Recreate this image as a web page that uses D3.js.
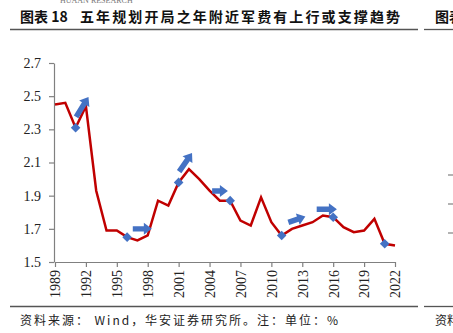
<!DOCTYPE html>
<html>
<head>
<meta charset="utf-8">
<script src="https://cdn.jsdelivr.net/npm/d3@7"></script>
<style>
  html, body { margin: 0; padding: 0; background: #fff; }
  svg { display: block; }
</style>
</head>
<body>
<svg id="chart" width="453" height="333"></svg>
<script>
// Defence spending as share of GDP, 1989–2022 (%)
const years = d3.range(1989, 2023);
const spending = [
  2.45, 2.46, 2.31, 2.44, 1.93, 1.69, 1.69, 1.65, 1.63, 1.66,
  1.87, 1.84, 1.98, 2.06, 2.00, 1.93, 1.87, 1.87, 1.75, 1.72,
  1.89, 1.74, 1.66, 1.70, 1.72, 1.74, 1.78, 1.77, 1.71, 1.68,
  1.69, 1.76, 1.61, 1.60
];
// First year of each five-year plan
const planYears = [1991, 1996, 2001, 2006, 2011, 2016, 2021];
// Trend arrows after each plan start: [fromYear, fromValue, toYear, toValue]
const arrows = [
  [1991.05, 2.375, 1992.25, 2.495],
  [1996.55, 1.700, 1998.40, 1.700],
  [2001.05, 2.045, 2002.30, 2.157],
  [2004.25, 1.928, 2005.78, 1.928],
  [2011.65, 1.739, 2013.30, 1.774],
  [2014.40, 1.818, 2016.36, 1.818]
];
const yTicks = [1.5, 1.7, 1.9, 2.1, 2.3, 2.5, 2.7];
const xTicks = d3.range(1989, 2023, 3);

const svg = d3.select("#chart");
const x = d3.scaleLinear().domain([1989, 2022]).range([55, 395]);
const y = d3.scaleLinear().domain([1.5, 2.7]).range([262, 63]);

const serif = "'Liberation Serif', 'Times New Roman', serif";
const cjk = "'Noto Sans CJK SC', sans-serif";

// Page header fragment
svg.append("text").attr("x", 60).attr("y", 3)
  .attr("font-family", serif).attr("font-size", 8).attr("fill", "#777")
  .text("HUAAN RESEARCH");

// Title
svg.append("text").attr("x", 20).attr("y", 22)
  .attr("font-family", cjk).attr("font-weight", 700).attr("font-size", 14).attr("fill", "#111")
  .text("图表 18");
svg.append("text").attr("x", 80).attr("y", 22)
  .attr("font-family", cjk).attr("font-weight", 700).attr("font-size", 14).attr("fill", "#111")
  .attr("textLength", 320).attr("lengthAdjust", "spacing")
  .text("五年规划开局之年附近军费有上行或支撑趋势");
svg.append("text").attr("x", 435).attr("y", 22)
  .attr("font-family", cjk).attr("font-weight", 700).attr("font-size", 14).attr("fill", "#111")
  .text("图表");

// Rules under title and above source
[[10, 418, 29.5], [424, 453, 29.5], [10, 418, 306.5], [424, 453, 306.5]].forEach(r => {
  svg.append("line").attr("x1", r[0]).attr("x2", r[1]).attr("y1", r[2]).attr("y2", r[2])
    .attr("stroke", "#555").attr("stroke-width", 1.3);
});

// Axes
const yAxis = svg.append("g").attr("transform", "translate(54,0)")
  .call(d3.axisLeft(y).tickValues(yTicks).tickFormat(d3.format(".1f")).tickSize(5).tickSizeOuter(0).tickPadding(8));
yAxis.selectAll("text").attr("font-family", serif).attr("font-size", 14).attr("fill", "#222");

const xAxis = svg.append("g").attr("transform", "translate(0,262)")
  .call(d3.axisBottom(x).tickValues(xTicks).tickFormat(d3.format("d")).tickSize(5).tickSizeOuter(0));
xAxis.selectAll("text")
  .attr("font-family", serif).attr("font-size", 14).attr("fill", "#222")
  .attr("transform", "rotate(-90)").attr("x", -8).attr("y", 0).attr("dy", "0.35em")
  .style("text-anchor", "end");
svg.selectAll(".domain, .tick line").attr("stroke", "#808080").attr("stroke-width", 1.2);

// Spending line
const line = d3.line().x((d, i) => x(years[i])).y(d => y(d));
svg.append("path").datum(spending).attr("d", line)
  .attr("fill", "none").attr("stroke", "#C00000").attr("stroke-width", 2.5)
  .attr("stroke-linejoin", "miter");

// Plan-start markers
svg.selectAll(".plan").data(planYears).enter().append("path")
  .attr("class", "plan")
  .attr("d", d3.symbol().type(d3.symbolSquare).size(46))
  .attr("transform", d => `translate(${x(d)},${y(spending[years.indexOf(d)])}) rotate(45)`)
  .attr("fill", "#4472C4");

// Block arrows
function arrowPath(a) {
  const x0 = x(a[0]), y0 = y(a[1]), x1 = x(a[2]), y1 = y(a[3]);
  const dx = x1 - x0, dy = y1 - y0, len = Math.hypot(dx, dy);
  const ux = dx / len, uy = dy / len, nx = -uy, ny = ux;
  const sw = 2.7, hw = 6, hl = 8;
  const bx = x1 - ux * hl, by = y1 - uy * hl;
  const pts = [
    [x0 + nx * sw, y0 + ny * sw], [bx + nx * sw, by + ny * sw], [bx + nx * hw, by + ny * hw],
    [x1, y1],
    [bx - nx * hw, by - ny * hw], [bx - nx * sw, by - ny * sw], [x0 - nx * sw, y0 - ny * sw]
  ];
  return "M" + pts.map(p => p.join(",")).join("L") + "Z";
}
svg.selectAll(".arrow").data(arrows).enter().append("path")
  .attr("class", "arrow").attr("d", arrowPath).attr("fill", "#4472C4");

// Neighbouring axis ticks at right edge
[175, 204, 233].forEach(v => {
  svg.append("line").attr("x1", 448).attr("x2", 453).attr("y1", v).attr("y2", v)
    .attr("stroke", "#808080").attr("stroke-width", 1.2);
});

// Source note
svg.append("text").attr("x", 20).attr("y", 325)
  .attr("font-family", cjk).attr("font-size", 12).attr("fill", "#222")
  .attr("textLength", 318).attr("lengthAdjust", "spacing")
  .text("资料来源：  Wind，华安证券研究所。注：单位：%");
svg.append("text").attr("x", 435).attr("y", 325)
  .attr("font-family", cjk).attr("font-size", 12).attr("fill", "#222")
  .text("资料");
</script>
</body>
</html>
